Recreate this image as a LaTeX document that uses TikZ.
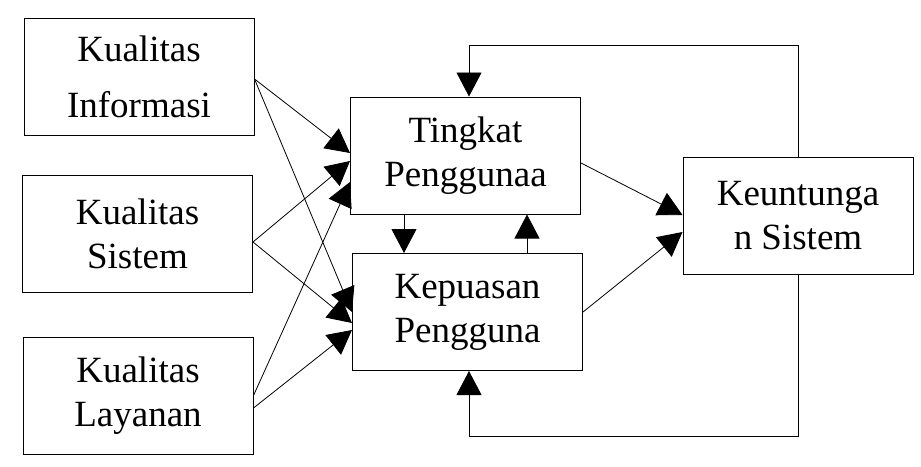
\documentclass[tikz,border=0pt]{standalone}
\usepackage{fontspec}
\setmainfont{Liberation Serif}
\usetikzlibrary{calc,arrows.meta}

\begin{document}
\begin{tikzpicture}[x=1pt, y=-1pt,
		varbox/.style={draw, line width=1pt, minimum width=230pt, minimum height=117pt, inner sep=0pt, align=center, font=\fontsize{37}{44}\selectfont},
		arr/.style={line width=0.8pt, -{Triangle[length=24pt, width=25pt]}}]
			%%%%% START %%%%%
			\useasboundingbox (0, 0) rectangle (921, 466);
			
			\node[varbox] (info) at (139, 76.5) {Kualitas\\[12pt]Informasi};
			\node[varbox] (sis) at (137.5, 233.5) {Kualitas\\Sistem};
			\node[varbox] (lay) at (138, 395.5) {Kualitas\\Layanan};
			
			\node[varbox] (ting) at (465.5, 155.5) {Tingkat\\Penggunaa};
			\node[varbox] (kep) at (467.5, 312) {Kepuasan\\Pengguna};
			
			\node[varbox] (keu) at (798, 216) {Keuntunga\\n Sistem};
			
			\draw[arr] ($(info.east)+(0, 2.5)$) -- ($(ting.west)+(0, -2.5)$);
			\draw[arr] ($(info.east)+(0, 2.5)$) -- (kep.west);
			\draw[arr] ($(sis.east)+(0, 8.5)$) -- ($(ting.west)+(0, 5.5)$);
			\draw[arr] ($(sis.east)+(0, 8.5)$) -- ($(kep.west)+(0, 11)$);
			\draw[arr] (lay.east) -- ($(ting.west)+(0, 26.5)$);
			\draw[arr] ($(lay.east)+(0, 12.5)$) -- ($(kep.west)+(0, 18)$);
			
			\draw[arr] ($(ting.east)+(0, 7.5)$) -- ($(keu.west)+(0, -1)$);
			\draw[arr] (kep.east) -- ($(keu.west)+(0, 16)$);
			
			\coordinate (tingdown) at ($(ting.south)+(-61.5, 0)$);
			\coordinate (kepup) at ($(kep.north)+(59.5, 0)$);
			\draw[arr] (tingdown) -- (tingdown |- kep.north);
			\draw[arr] (kepup) -- (kepup |- ting.south);
			
			\draw[arr] (keu.north) |- ($(ting.north)+(3.5, -51)$) -- ($(ting.north)+(3.5, 0)$);
			\draw[arr] (keu.south) |- ($(kep.south)+(1.5, 65)$) -- ($(kep.south)+(1.5, 0)$);
			
			%%%%% END %%%%%
		\end{tikzpicture}
\end{document}
